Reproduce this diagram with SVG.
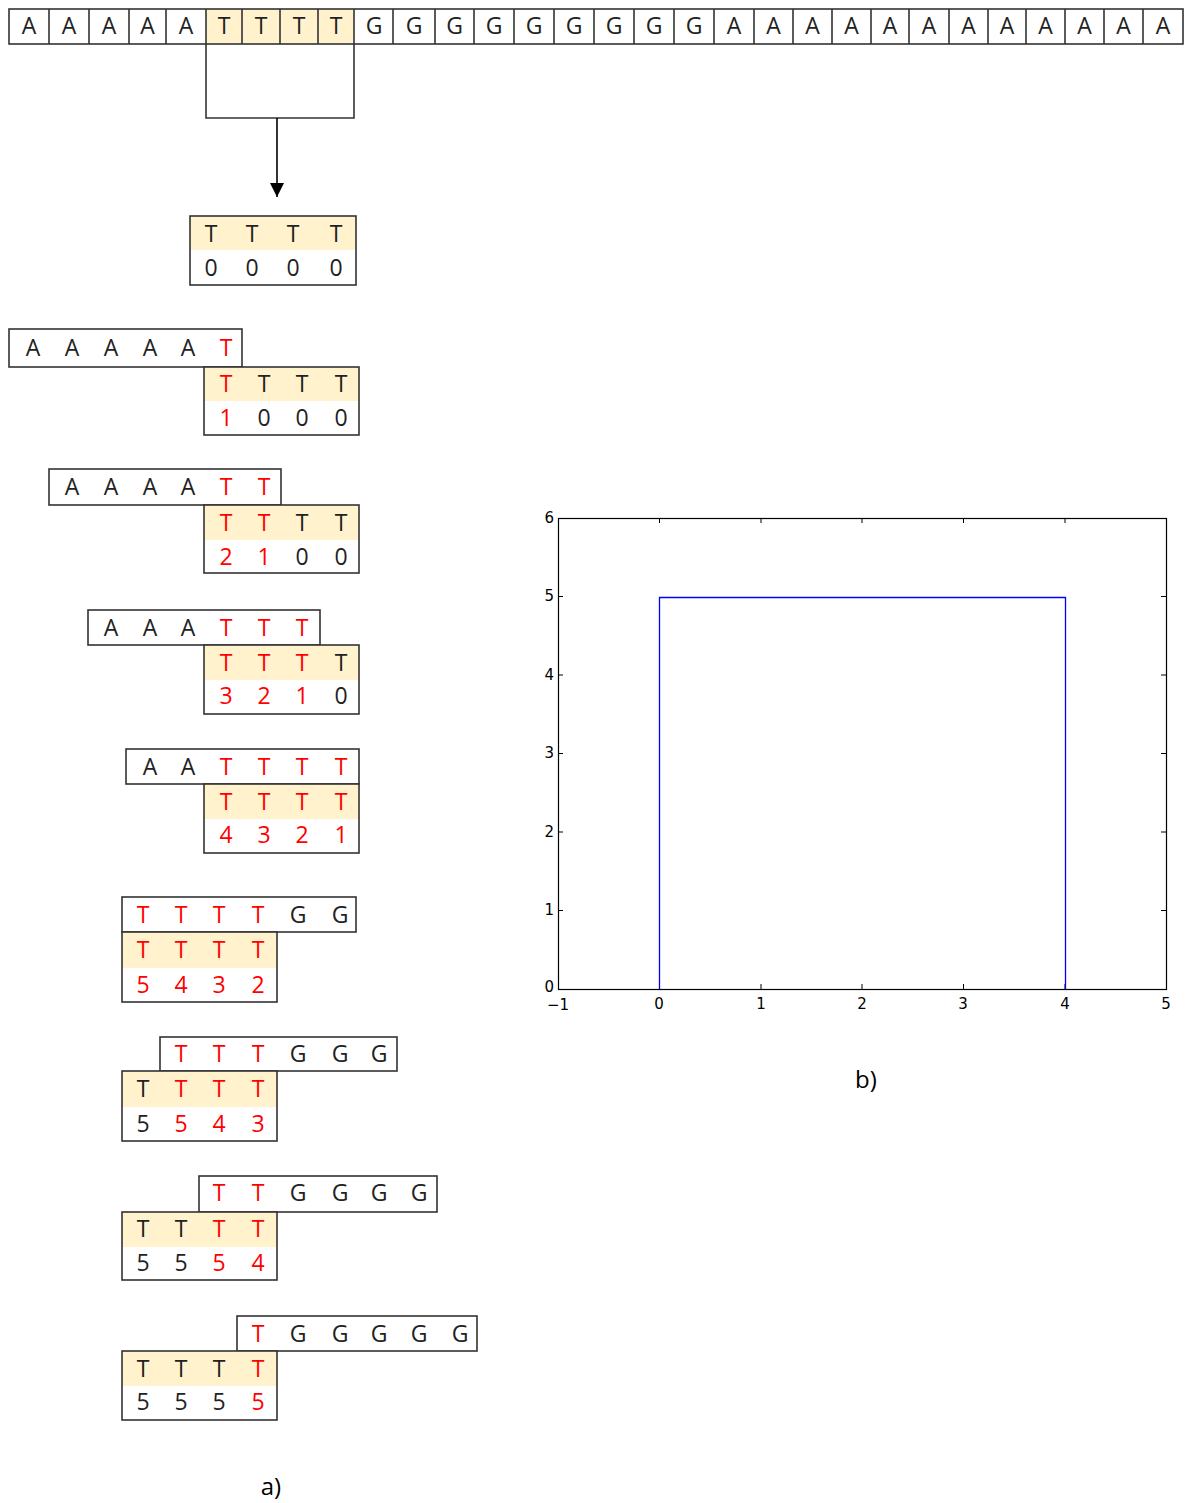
<svg xmlns="http://www.w3.org/2000/svg" width="1190" height="1503" viewBox="0 0 1190 1503">
<style>
.bx{fill:none;stroke:#333;stroke-width:1.6}
.hl{fill:#fff2cc;stroke:none}
.t{font-family:"Open Sans","Liberation Sans",sans-serif;font-size:23px;text-anchor:middle;fill:#222}
.r{fill:#ff0000}
.ax{font-family:"DejaVu Sans",sans-serif;font-size:15px;fill:#000}
.lbl{font-family:"Open Sans","Liberation Sans",sans-serif;font-size:24px;fill:#000;text-anchor:middle}
.tk{stroke:#000;stroke-width:1}
</style>
<defs>
<marker id="ah" markerWidth="14" markerHeight="14" refX="7" refY="14" orient="0" markerUnits="userSpaceOnUse">
<path d="M0,0 L14,0 L7,14 Z" fill="#000"/>
</marker>
</defs>
<rect width="1190" height="1503" fill="#fff"/>

<g id="sequence">
<rect class="hl" x="206" y="9" width="148" height="35"/>
<rect class="bx" x="9" y="9" width="1174" height="35"/>
<path class="bx" d="M49,9V44M89,9V44M129,9V44M166,9V44M206,9V44M242,9V44M280,9V44M318,9V44M354,9V44M393,9V44M435,9V44M474,9V44M514,9V44M554,9V44M594,9V44M634,9V44M674,9V44M714,9V44M754,9V44M793,9V44M832,9V44M871,9V44M909,9V44M949,9V44M988,9V44M1026,9V44M1065,9V44M1104,9V44M1143,9V44"/>
<g class="t">
<text x="29" y="34">A</text><text x="69" y="34">A</text><text x="109" y="34">A</text><text x="147.5" y="34">A</text><text x="186" y="34">A</text>
<text x="224" y="34">T</text><text x="261" y="34">T</text><text x="299" y="34">T</text><text x="336" y="34">T</text>
<text x="374" y="34">G</text><text x="414" y="34">G</text><text x="454.5" y="34">G</text><text x="494" y="34">G</text><text x="534" y="34">G</text><text x="574" y="34">G</text><text x="614" y="34">G</text><text x="654" y="34">G</text><text x="694" y="34">G</text>
<text x="734" y="34">A</text><text x="773.5" y="34">A</text><text x="812.5" y="34">A</text><text x="851.5" y="34">A</text><text x="890" y="34">A</text><text x="929" y="34">A</text><text x="968.5" y="34">A</text><text x="1007" y="34">A</text><text x="1045.5" y="34">A</text><text x="1084.5" y="34">A</text><text x="1123.5" y="34">A</text><text x="1163" y="34">A</text>
</g>
</g>

<g id="connectors">
<path class="bx" d="M206,44V118H354V44"/>
<path d="M277,118V197" stroke="#000" stroke-width="1.6" fill="none" marker-end="url(#ah)"/>
</g>

<g id="init">
<rect class="hl" x="190" y="216" width="166" height="34"/>
<rect class="bx" x="190" y="216" width="166" height="69"/>
<g class="t">
<text x="211" y="242">T</text><text x="252" y="242">T</text><text x="293" y="242">T</text><text x="336" y="242">T</text>
<text x="211" y="276">0</text><text x="252" y="276">0</text><text x="293" y="276">0</text><text x="336" y="276">0</text>
</g>
</g>

<g id="step1">
<rect class="bx" x="9" y="329" width="233" height="38"/>
<rect class="hl" x="204" y="367" width="155" height="34"/>
<rect class="bx" x="204" y="367" width="155" height="68"/>
<g class="t">
<text x="33" y="356">A</text><text x="72" y="356">A</text><text x="111" y="356">A</text><text x="150" y="356">A</text><text x="188" y="356">A</text><text class="r" x="226" y="356">T</text>
<text class="r" x="226" y="392">T</text><text x="264" y="392">T</text><text x="302" y="392">T</text><text x="341" y="392">T</text>
<text class="r" x="226" y="426">1</text><text x="264" y="426">0</text><text x="302" y="426">0</text><text x="341" y="426">0</text>
</g>
</g>

<g id="step2">
<rect class="bx" x="49" y="469" width="232" height="36"/>
<rect class="hl" x="204" y="505" width="155" height="35"/>
<rect class="bx" x="204" y="505" width="155" height="68"/>
<g class="t">
<text x="72" y="495">A</text><text x="111" y="495">A</text><text x="150" y="495">A</text><text x="188" y="495">A</text><text class="r" x="226" y="495">T</text><text class="r" x="264" y="495">T</text>
<text class="r" x="226" y="531">T</text><text class="r" x="264" y="531">T</text><text x="302" y="531">T</text><text x="341" y="531">T</text>
<text class="r" x="226" y="565">2</text><text class="r" x="264" y="565">1</text><text x="302" y="565">0</text><text x="341" y="565">0</text>
</g>
</g>

<g id="step3">
<rect class="bx" x="88" y="610" width="232" height="35"/>
<rect class="hl" x="204" y="645" width="155" height="35"/>
<rect class="bx" x="204" y="645" width="155" height="69"/>
<g class="t">
<text x="111" y="636">A</text><text x="150" y="636">A</text><text x="188" y="636">A</text><text class="r" x="226" y="636">T</text><text class="r" x="264" y="636">T</text><text class="r" x="302" y="636">T</text>
<text class="r" x="226" y="671">T</text><text class="r" x="264" y="671">T</text><text class="r" x="302" y="671">T</text><text x="341" y="671">T</text>
<text class="r" x="226" y="704">3</text><text class="r" x="264" y="704">2</text><text class="r" x="302" y="704">1</text><text x="341" y="704">0</text>
</g>
</g>

<g id="step4">
<rect class="bx" x="126" y="749" width="233" height="35"/>
<rect class="hl" x="204" y="784" width="155" height="35"/>
<rect class="bx" x="204" y="784" width="155" height="69"/>
<g class="t">
<text x="150" y="775">A</text><text x="188" y="775">A</text><text class="r" x="226" y="775">T</text><text class="r" x="264" y="775">T</text><text class="r" x="302" y="775">T</text><text class="r" x="341" y="775">T</text>
<text class="r" x="226" y="810">T</text><text class="r" x="264" y="810">T</text><text class="r" x="302" y="810">T</text><text class="r" x="341" y="810">T</text>
<text class="r" x="226" y="843">4</text><text class="r" x="264" y="843">3</text><text class="r" x="302" y="843">2</text><text class="r" x="341" y="843">1</text>
</g>
</g>

<g id="step5">
<rect class="bx" x="122" y="897" width="234" height="35"/>
<rect class="hl" x="122" y="932" width="155" height="36"/>
<rect class="bx" x="122" y="932" width="155" height="70"/>
<g class="t">
<text class="r" x="143" y="923">T</text><text class="r" x="181" y="923">T</text><text class="r" x="219" y="923">T</text><text class="r" x="258" y="923">T</text><text x="298" y="923">G</text><text x="340" y="923">G</text>
<text class="r" x="143" y="958">T</text><text class="r" x="181" y="958">T</text><text class="r" x="219" y="958">T</text><text class="r" x="258" y="958">T</text>
<text class="r" x="143" y="993">5</text><text class="r" x="181" y="993">4</text><text class="r" x="219" y="993">3</text><text class="r" x="258" y="993">2</text>
</g>
</g>

<g id="step6">
<rect class="bx" x="160" y="1037" width="237" height="34"/>
<rect class="hl" x="122" y="1071" width="155" height="36"/>
<rect class="bx" x="122" y="1071" width="155" height="70"/>
<g class="t">
<text class="r" x="181" y="1062">T</text><text class="r" x="219" y="1062">T</text><text class="r" x="258" y="1062">T</text><text x="298" y="1062">G</text><text x="340" y="1062">G</text><text x="379" y="1062">G</text>
<text x="143" y="1097">T</text><text class="r" x="181" y="1097">T</text><text class="r" x="219" y="1097">T</text><text class="r" x="258" y="1097">T</text>
<text x="143" y="1132">5</text><text class="r" x="181" y="1132">5</text><text class="r" x="219" y="1132">4</text><text class="r" x="258" y="1132">3</text>
</g>
</g>

<g id="step7">
<rect class="bx" x="199" y="1176" width="238" height="36"/>
<rect class="hl" x="122" y="1212" width="155" height="35"/>
<rect class="bx" x="122" y="1212" width="155" height="68"/>
<g class="t">
<text class="r" x="219" y="1201">T</text><text class="r" x="258" y="1201">T</text><text x="298" y="1201">G</text><text x="340" y="1201">G</text><text x="379" y="1201">G</text><text x="419" y="1201">G</text>
<text x="143" y="1237">T</text><text x="181" y="1237">T</text><text class="r" x="219" y="1237">T</text><text class="r" x="258" y="1237">T</text>
<text x="143" y="1271">5</text><text x="181" y="1271">5</text><text class="r" x="219" y="1271">5</text><text class="r" x="258" y="1271">4</text>
</g>
</g>

<g id="step8">
<rect class="bx" x="237" y="1316" width="240" height="35"/>
<rect class="hl" x="122" y="1351" width="155" height="35"/>
<rect class="bx" x="122" y="1351" width="155" height="69"/>
<g class="t">
<text class="r" x="258" y="1342">T</text><text x="298" y="1342">G</text><text x="340" y="1342">G</text><text x="379" y="1342">G</text><text x="419" y="1342">G</text><text x="460" y="1342">G</text>
<text x="143" y="1377">T</text><text x="181" y="1377">T</text><text x="219" y="1377">T</text><text class="r" x="258" y="1377">T</text>
<text x="143" y="1410">5</text><text x="181" y="1410">5</text><text x="219" y="1410">5</text><text class="r" x="258" y="1410">5</text>
</g>
</g>

<text class="lbl" x="271" y="1495">a)</text>

<g id="plot">
<rect x="558.5" y="518.5" width="608" height="471" fill="none" stroke="#000" stroke-width="1.2"/>
<path class="tk" d="M558,910.5h5M558,832h5M558,753.5h5M558,675h5M558,596.5h5M1166,910.5h-5M1166,832h-5M1166,753.5h-5M1166,675h-5M1166,596.5h-5M659.5,989v-5M761,989v-5M862,989v-5M963.5,989v-5M1065,989v-5M659.5,518v5M761,518v5M862,518v5M963.5,518v5M1065,518v5"/>
<path d="M659.5,989V597.5H1065.5V989" fill="none" stroke="#0000ff" stroke-width="1.3"/>
<g class="ax" text-anchor="end">
<text x="554" y="992">0</text><text x="554" y="915">1</text><text x="554" y="837">2</text><text x="554" y="758">3</text><text x="554" y="680">4</text><text x="554" y="601">5</text><text x="554" y="523">6</text>
</g>
<g class="ax" text-anchor="middle">
<text x="558" y="1010">−1</text><text x="659" y="1009">0</text><text x="761" y="1009">1</text><text x="862" y="1009">2</text><text x="963" y="1009">3</text><text x="1065" y="1009">4</text><text x="1166" y="1009">5</text>
</g>
</g>

<text class="lbl" x="866" y="1088">b)</text>
</svg>
